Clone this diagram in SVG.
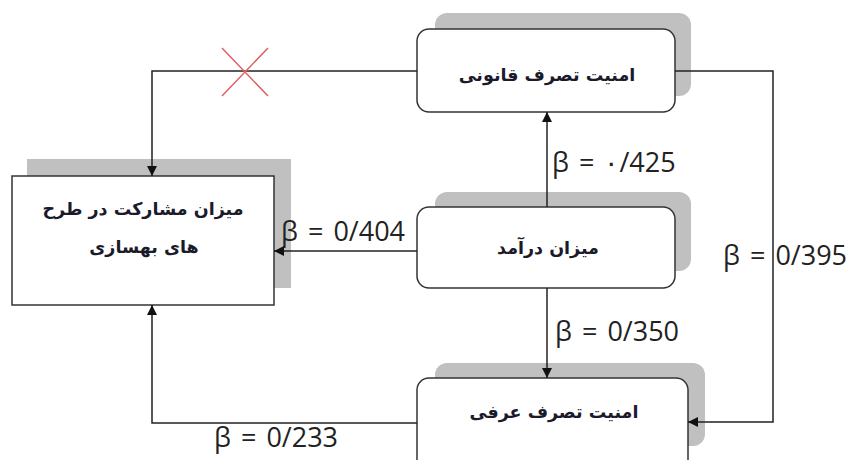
<svg xmlns="http://www.w3.org/2000/svg" width="856" height="460" viewBox="0 0 856 460">
<style>
.shadow{fill:#c0c0c0}
.box{fill:#fff;stroke:#333;stroke-width:1.5}
.lbl{font-family:"DejaVu Sans",sans-serif;font-weight:bold;font-size:17.5px;fill:#1a1a2a;text-anchor:middle}
.beta{font-family:"Open Sans","Liberation Sans",sans-serif;font-size:27px;word-spacing:3px;fill:#222}
.ln{fill:none;stroke:#222;stroke-width:1.5}
</style>
<defs>
<marker id="ah" viewBox="0 0 10 10" refX="10" refY="5" markerWidth="10" markerHeight="10" markerUnits="userSpaceOnUse" orient="auto">
<path d="M0,0 L10,5 L0,10 Z" fill="#111"/>
</marker>
</defs>
<rect width="856" height="460" fill="#fff"/>
<g id="legal">
<rect class="shadow" x="435" y="13" width="256" height="83" rx="12"/>
<rect class="box" x="417" y="29" width="258" height="83" rx="12"/>
<text class="lbl" x="547" y="81" direction="rtl" unicode-bidi="embed">امنیت تصرف قانونی</text>
</g>
<g id="income">
<rect class="shadow" x="435" y="192" width="256" height="79" rx="12"/>
<rect class="box" x="417" y="207" width="258" height="81" rx="12"/>
<text class="lbl" x="548" y="254" direction="rtl" unicode-bidi="embed">میزان درآمد</text>
</g>
<g id="customary">
<rect class="shadow" x="435" y="363" width="270" height="83" rx="12"/>
<rect class="box" x="417" y="378" width="271" height="95" rx="12"/>
<text class="lbl" x="554" y="418" direction="rtl" unicode-bidi="embed">امنیت تصرف عرفی</text>
</g>
<g id="participation">
<rect class="shadow" x="27" y="159" width="264" height="129"/>
<rect class="box" x="12" y="176" width="262" height="129"/>
<text class="lbl" x="143" y="215" direction="rtl" unicode-bidi="embed">میزان مشارکت در طرح</text>
<text class="lbl" x="144" y="253" direction="rtl" unicode-bidi="embed">های بهسازی</text>
</g>
<g id="connectors">
<polyline class="ln" points="417,71 152,71 152,176" marker-end="url(#ah)"/>
<path d="M222,48 L268,96 M268,48 L222,96" stroke="#e06060" stroke-width="1.5" fill="none"/>
<polyline class="ln" points="675,71 773,71 773,422 688,422" marker-end="url(#ah)"/>
<line class="ln" x1="547" y1="207" x2="547" y2="112" marker-end="url(#ah)"/>
<line class="ln" x1="547" y1="288" x2="547" y2="378" marker-end="url(#ah)"/>
<line class="ln" x1="417" y1="251" x2="274" y2="251" marker-end="url(#ah)"/>
<polyline class="ln" points="417,423 152,423 152,305" marker-end="url(#ah)"/>
</g>
<g id="labels">
<text class="beta" x="552" y="172">β = ٠/425</text>
<text class="beta" x="281" y="241">β = 0/404</text>
<text class="beta" x="723" y="265">β = 0/395</text>
<text class="beta" x="555" y="341">β = 0/350</text>
<text class="beta" x="214" y="447">β = 0/233</text>
</g>
</svg>
